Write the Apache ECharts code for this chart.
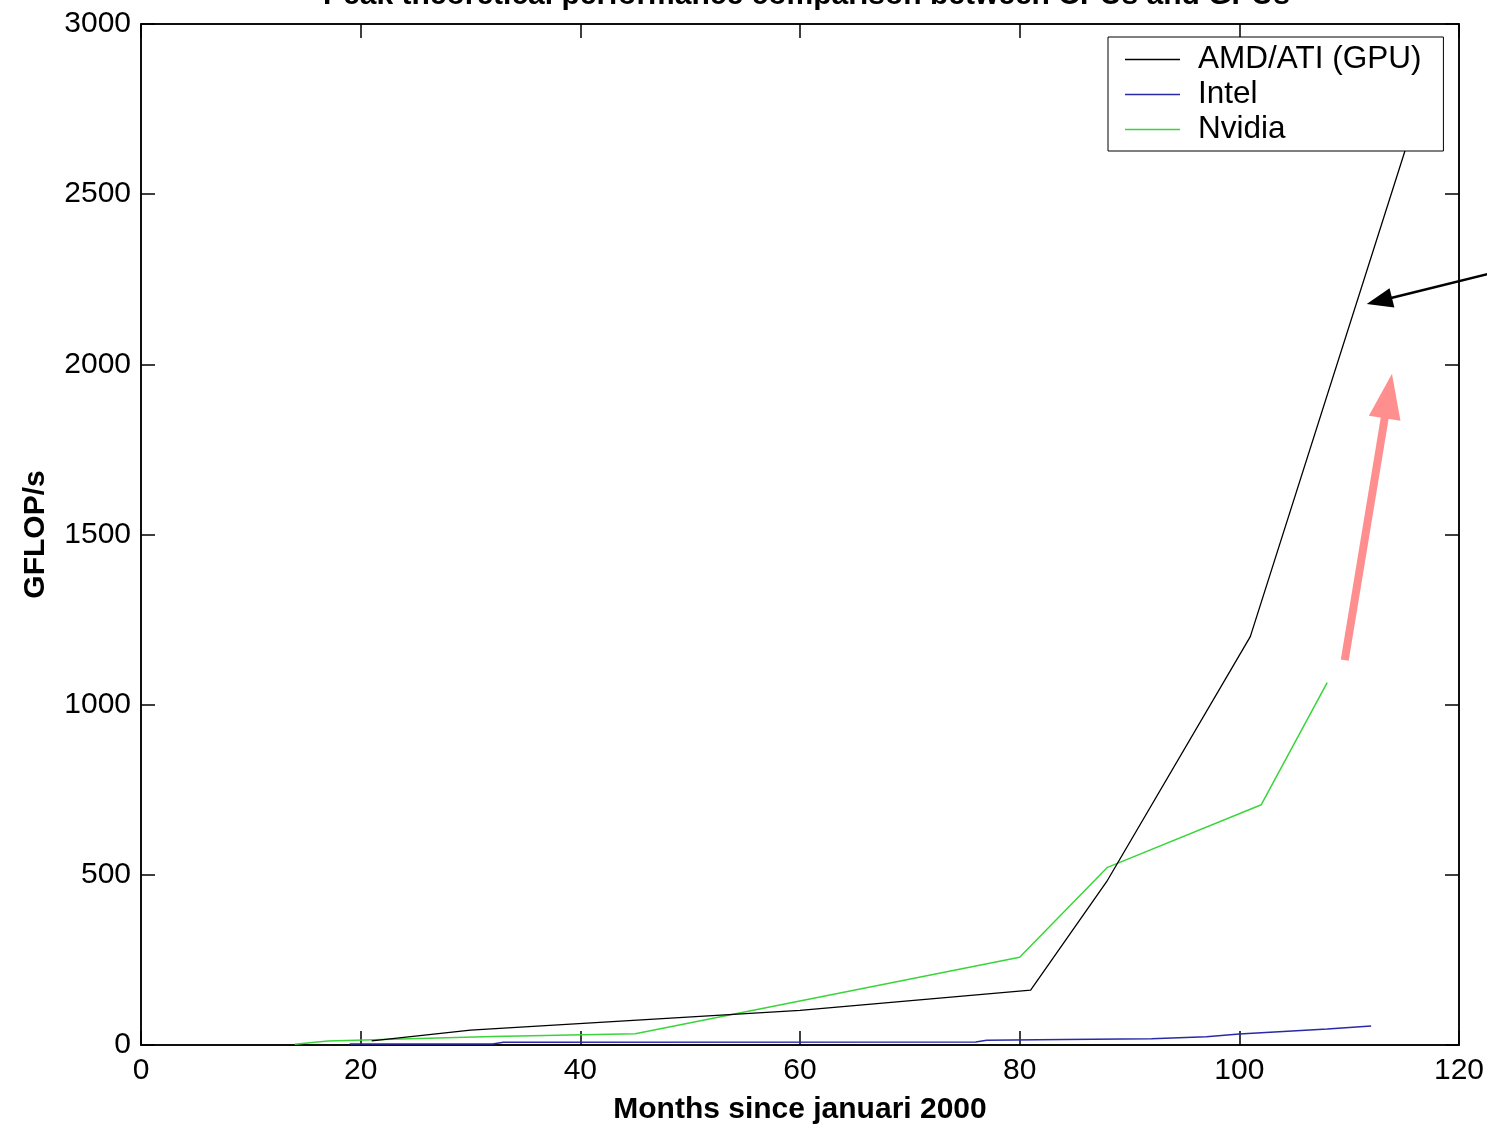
<!DOCTYPE html>
<html>
<head>
<meta charset="utf-8">
<script src="https://cdn.jsdelivr.net/npm/echarts@6/dist/echarts.min.js"></script>
<style>
html,body{margin:0;padding:0;background:#fff;}
#chart{width:1487px;height:1130px;}
</style>
</head>
<body>
<div id="chart"></div>
<script>
// ---- data (months since Jan 2000, GFLOP/s) ----
var titleText = 'Peak theoretical performance comparison between CPUs and GPUs';
var seriesNames = ['AMD/ATI (GPU)', 'Intel', 'Nvidia'];
var amdMonths   = [21, 30, 60, 81, 88, 101, 116];
var amdValues   = [12, 44, 102, 161, 484, 1200, 2720];
var intelMonths = [19, 32, 33, 76, 77, 84, 92, 97, 100, 104, 108, 112];
var intelValues = [3, 3, 8, 9, 14, 16, 18, 24, 32, 40, 47, 56];
var nvidiaMonths = [14, 17, 32, 45, 80, 88, 102, 108];
var nvidiaValues = [2, 12, 25, 33, 258, 522, 706, 1065];
var xTicks = [0, 20, 40, 60, 80, 100, 120];
var yTicks = [0, 500, 1000, 1500, 2000, 2500, 3000];
// annotation arrows [tailMonth, tailValue, tipMonth, tipValue]
var blackArrow = [122.6, 2265, 111.6, 2177];
var redArrow = [109.6, 1131, 113.9, 1972];

function pairs(xs, ys){ return xs.map(function(x,i){ return [x, ys[i]]; }); }

var FONT = '"Liberation Sans", Arial, sans-serif';
var chart = echarts.init(document.getElementById('chart'), null, {renderer:'canvas'});

function axisCommon(){
  return {
    axisLine: {show:true, onZero:false, lineStyle:{color:'#000', width:1.5}},
    axisTick: {show:true, inside:true, length:14, lineStyle:{color:'#000', width:1.5}},
    splitLine: {show:false}
  };
}
function plain(v){ return String(v); }

var option = {
  backgroundColor: '#fff',
  animation: false,
  title: {
    text: titleText, left: 318, top: -24,
    textStyle: {fontFamily: FONT, fontSize: 30, fontWeight: 'bold', color: '#000'}
  },
  grid: {left: 141, right: 28, top: 24, bottom: 82, show: true, borderColor: '#000', borderWidth: 1.5, backgroundColor: '#fff'},
  legend: {
    data: seriesNames,
    orient: 'vertical', left: 1108, top: 37,
    padding: [5, 22, 4, 17],
    itemGap: 0, itemWidth: 55, itemHeight: 1.5, icon: 'rect',
    backgroundColor: '#fff', borderColor: '#000', borderWidth: 1,
    textStyle: {fontFamily: FONT, fontSize: 31.5, color: '#000', lineHeight: 35, padding: [0,0,0,13]}
  },
  xAxis: [
    Object.assign({type:'value', min: xTicks[0], max: xTicks[xTicks.length-1], interval: 20, position:'bottom',
      name: 'Months since januari 2000', nameLocation:'middle', nameGap: 50,
      nameTextStyle:{fontFamily: FONT, fontSize: 30, fontWeight:'bold', color:'#000'},
      axisLabel:{fontFamily: FONT, fontSize: 30, color:'#000', margin: 11, formatter: plain}}, axisCommon()),
    Object.assign({type:'value', min: xTicks[0], max: xTicks[xTicks.length-1], interval: 20, position:'top',
      axisLabel:{show:false}}, axisCommon())
  ],
  yAxis: [
    Object.assign({type:'value', min: yTicks[0], max: yTicks[yTicks.length-1], interval: 500, position:'left',
      name: 'GFLOP/s', nameLocation:'middle', nameGap: 90,
      nameTextStyle:{fontFamily: FONT, fontSize: 30, fontWeight:'bold', color:'#000'},
      axisLabel:{fontFamily: FONT, fontSize: 30, color:'#000', margin: 10, formatter: plain}}, axisCommon()),
    Object.assign({type:'value', min: yTicks[0], max: yTicks[yTicks.length-1], interval: 500, position:'right',
      axisLabel:{show:false}}, axisCommon())
  ],
  series: [
    {name: seriesNames[0], type:'line', data: pairs(amdMonths, amdValues), symbol:'none',
      lineStyle:{color:'#000', width:1.3}, itemStyle:{color:'#000'}, z: 3},
    {name: seriesNames[1], type:'line', data: pairs(intelMonths, intelValues), symbol:'none',
      lineStyle:{color:'#2a2aa8', width:1.5}, itemStyle:{color:'#2a2aa8'}, z: 2},
    {name: seriesNames[2], type:'line', data: pairs(nvidiaMonths, nvidiaValues), symbol:'none',
      lineStyle:{color:'#3ad53a', width:1.5}, itemStyle:{color:'#3ad53a'}, z: 2}
  ]
};
chart.setOption(option);

function arrowGraphic(a, color, lw, headLen, headW){
  var p0 = chart.convertToPixel({gridIndex:0}, [a[0], a[1]]);
  var p1 = chart.convertToPixel({gridIndex:0}, [a[2], a[3]]);
  var dx = p1[0]-p0[0], dy = p1[1]-p0[1];
  var L = Math.sqrt(dx*dx+dy*dy); var ux = dx/L, uy = dy/L;
  var bx = p1[0]-ux*headLen, by = p1[1]-uy*headLen;
  var nx = -uy, ny = ux;
  return [
    {type:'line', shape:{x1:p0[0], y1:p0[1], x2:bx+ux*2, y2:by+uy*2}, style:{stroke:color, lineWidth:lw}, z: 100},
    {type:'polygon', shape:{points:[[p1[0],p1[1]],[bx+nx*headW/2, by+ny*headW/2],[bx-nx*headW/2, by-ny*headW/2]]},
      style:{fill:color}, z: 100}
  ];
}
chart.setOption({graphic: arrowGraphic(blackArrow, '#000', 2.5, 26, 20).concat(arrowGraphic(redArrow, '#ff8f8f', 8, 45, 32))});
</script>
</body>
</html>
